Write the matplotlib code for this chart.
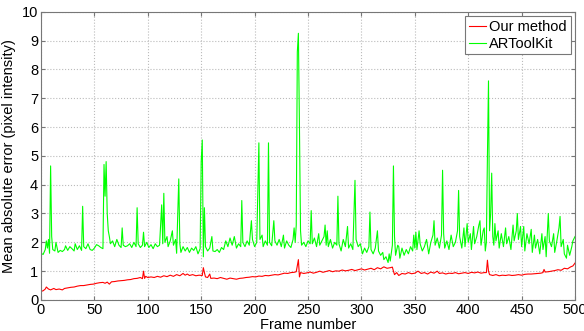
import matplotlib
matplotlib.use('Agg')
import matplotlib.pyplot as plt

# ARToolKit error (frame, value)
frames_artk = [0, 2, 4, 5, 6, 7, 8, 9, 10, 11, 13, 14, 16, 18, 20, 22, 23, 25, 27, 29,
               31, 32, 34, 36, 38, 39, 40, 42, 44, 46, 48, 50, 52, 54, 56, 58, 59, 60, 61, 62,
               63, 64, 65, 67, 69, 71, 73, 75, 76, 77, 79, 81, 83, 85, 87, 89, 90, 91, 93, 95,
               96, 97, 99, 101, 103, 105, 107, 109, 111, 113, 114, 115, 116, 118, 119, 121, 123, 124, 126, 127,
               129, 130, 131, 133, 135, 137, 139, 141, 143, 145, 147, 149, 150, 151, 152, 153, 154, 156, 158, 160,
               161, 163, 165, 167, 169, 171, 173, 175, 177, 179, 181, 183, 185, 187, 188, 189, 191, 193, 195, 197,
               198, 200, 202, 204, 205, 207, 208, 210, 212, 213, 214, 216, 218, 219, 221, 223, 225, 227, 228, 230,
               232, 234, 236, 237, 238, 239, 240, 241, 242, 243, 244, 246, 248, 250, 252, 253, 254, 256, 258, 260,
               261, 263, 265, 266, 267, 268, 269, 271, 273, 275, 277, 278, 279, 281, 283, 285, 287, 288, 290, 292,
               294, 295, 297, 299, 301, 303, 305, 307, 308, 309, 311, 313, 315, 316, 318, 320, 321, 323, 325, 326,
               327, 329, 330, 331, 332, 334, 335, 336, 338, 340, 342, 344, 346, 348, 349, 350, 351, 352, 354, 355,
               357, 359, 361, 363, 365, 367, 368, 369, 371, 373, 375, 376, 377, 378, 380, 382, 384, 386, 388, 390,
               391, 392, 394, 396, 397, 399, 400, 402, 403, 405, 406, 408, 410, 411, 412, 414, 415, 416, 417, 418,
               419, 420, 421, 422, 423, 424, 425, 426, 428, 429, 431, 433, 435, 436, 438, 440, 442, 443, 445, 446,
               447, 449, 450, 452, 453, 455, 457, 459, 460, 462, 463, 465, 467, 469, 470, 472, 473, 475, 476, 478,
               480, 481, 483, 485, 486, 487, 489, 490, 492, 493, 495, 497, 498, 500]
err_artk = [1.62, 1.58, 1.75, 2.05, 1.80, 2.10, 1.62, 4.65, 2.20, 1.75, 1.70, 2.00, 1.65, 1.72, 1.68, 1.75, 1.88, 1.72, 1.85, 1.78,
            1.70, 1.95, 1.75, 1.88, 1.72, 3.25, 1.85, 1.78, 1.95, 1.75, 1.72, 1.80, 1.92, 1.88, 1.82, 1.78, 4.70, 3.60, 4.80, 3.00,
            2.40, 2.20, 1.95, 2.05, 1.85, 2.10, 1.90, 1.82, 2.50, 1.90, 1.85, 1.88, 1.95, 1.82, 2.00, 1.85, 3.20, 1.95, 1.82, 1.90,
            2.35, 1.85, 2.00, 1.82, 1.92, 1.78, 1.95, 1.85, 1.90, 3.30, 1.95, 3.70, 2.00, 2.20, 1.85, 2.05, 2.40, 1.90, 2.10, 1.62,
            4.20, 1.95, 1.65, 1.85, 1.70, 1.82, 1.65, 1.80, 1.72, 1.85, 1.60, 1.78, 4.80, 5.55, 1.50, 3.20, 1.85, 1.70, 1.80, 2.20,
            1.70, 1.68, 1.75, 1.65, 1.82, 1.75, 2.05, 1.85, 2.15, 1.90, 2.20, 1.80, 1.95, 1.85, 3.45, 2.00, 1.85, 2.05, 1.90, 2.75,
            2.10, 1.85, 2.00, 5.45, 2.10, 2.25, 1.85, 2.05, 1.90, 5.45, 2.00, 1.88, 2.75, 2.05, 1.90, 2.10, 1.85, 2.25, 1.80, 2.05,
            1.90, 1.82, 2.10, 2.50, 2.00, 2.60, 8.60, 9.25, 6.00, 2.40, 1.90, 2.00, 1.85, 2.05, 1.95, 3.10, 1.95, 2.15, 1.85, 2.30,
            1.90, 2.05, 2.20, 2.60, 1.90, 2.40, 1.85, 2.10, 1.80, 2.00, 1.90, 3.60, 1.95, 1.70, 2.10, 1.85, 2.55, 1.80, 1.95, 1.75,
            4.15, 2.10, 1.85, 1.95, 1.60, 1.80, 1.65, 1.85, 3.05, 1.75, 1.60, 1.80, 2.40, 1.70, 1.55, 1.65, 1.40, 1.50, 1.30, 1.60,
            1.35, 1.90, 4.65, 2.20, 1.55, 1.90, 1.85, 1.45, 1.80, 1.55, 1.75, 1.60, 1.85, 1.70, 2.25, 1.80, 2.35, 1.75, 2.40, 1.95,
            1.70, 1.85, 2.10, 1.60, 2.00, 2.25, 2.75, 1.90, 2.15, 1.80, 2.25, 4.50, 2.30, 1.80, 2.05, 1.75, 2.25, 1.85, 2.00, 2.40,
            3.80, 2.20, 1.80, 2.50, 1.85, 2.65, 2.00, 2.30, 1.75, 2.55, 1.95, 2.20, 2.60, 2.75, 1.90, 2.40, 2.50, 1.70, 2.00, 5.00,
            7.60, 2.40, 3.00, 4.40, 2.20, 1.90, 2.65, 2.05, 2.40, 1.80, 2.30, 1.85, 2.50, 1.95, 2.20, 1.75, 2.60, 2.05, 2.40, 3.00,
            2.10, 2.55, 1.85, 2.55, 1.70, 2.30, 1.95, 2.45, 1.65, 2.25, 1.80, 2.10, 1.60, 2.30, 1.75, 2.20, 1.50, 3.00, 2.05, 1.85,
            2.30, 1.65, 2.05, 2.50, 2.90, 1.85, 2.10, 1.60, 1.45, 1.90, 1.55, 1.85, 2.05, 2.20]

# Our method error (frame, value)
frames_ours = [0, 2, 4, 5, 7, 9, 12, 14, 17, 20, 22, 25, 28, 31, 34, 37, 40, 43, 46, 49,
               52, 55, 58, 60, 62, 64, 66, 69, 72, 75, 78, 81, 84, 87, 90, 93, 95, 96, 97, 98,
               100, 103, 106, 109, 112, 115, 118, 121, 124, 127, 130, 133, 135, 137, 139, 142, 145, 148, 151, 152,
               153, 154, 156, 158, 159, 162, 165, 168, 171, 174, 177, 180, 183, 186, 189, 192, 195, 198, 201, 204,
               207, 210, 213, 216, 219, 222, 225, 228, 231, 234, 237, 239, 240, 241, 242, 243, 246, 249, 252, 255,
               258, 261, 264, 267, 270, 273, 276, 279, 282, 285, 288, 291, 294, 297, 300, 303, 306, 309, 312, 315,
               318, 321, 324, 327, 329, 330, 331, 333, 335, 338, 341, 344, 347, 350, 353, 356, 359, 362, 365, 368,
               371, 373, 376, 379, 382, 385, 388, 391, 394, 397, 400, 403, 406, 409, 412, 415, 417, 418, 419, 420,
               423, 426, 429, 432, 435, 438, 441, 444, 447, 450, 453, 456, 459, 462, 465, 468, 470, 471, 472, 475,
               478, 481, 484, 487, 490, 493, 496, 498, 500]
err_ours = [0.30, 0.32, 0.38, 0.45, 0.38, 0.35, 0.40, 0.36, 0.38, 0.35, 0.40, 0.42, 0.44, 0.45, 0.48, 0.50, 0.50, 0.52, 0.54, 0.55,
            0.58, 0.60, 0.61, 0.58, 0.62, 0.55, 0.63, 0.64, 0.66, 0.67, 0.68, 0.70, 0.71, 0.74, 0.75, 0.78, 0.74, 1.00, 0.75, 0.82,
            0.78, 0.80, 0.78, 0.82, 0.79, 0.84, 0.81, 0.86, 0.82, 0.88, 0.84, 0.92, 0.86, 0.90, 0.85, 0.88, 0.84, 0.86, 0.85, 1.12,
            0.95, 0.80, 0.78, 0.90, 0.75, 0.76, 0.74, 0.78, 0.75, 0.72, 0.76, 0.74, 0.72, 0.75, 0.76, 0.78, 0.79, 0.81, 0.80, 0.83,
            0.82, 0.85, 0.84, 0.86, 0.88, 0.87, 0.90, 0.93, 0.92, 0.95, 0.96, 0.98, 1.20, 1.40, 0.80, 0.95, 0.92, 0.94, 0.97, 0.93,
            0.96, 1.00, 0.96, 0.99, 1.02, 0.98, 1.01, 1.00, 1.04, 1.01, 1.03, 1.06, 1.02, 1.05, 1.08, 1.04, 1.07, 1.10, 1.05, 1.12,
            1.08, 1.15, 1.10, 1.12, 1.14, 1.00, 0.88, 0.95, 0.85, 0.92, 0.90, 0.95, 0.91, 0.93, 1.00, 0.92, 0.95, 0.90, 0.97, 0.93,
            1.00, 0.92, 0.94, 0.90, 0.93, 0.92, 0.95, 0.91, 0.93, 0.95, 0.92, 0.96, 0.94, 0.97, 0.93, 0.95, 0.95, 1.38, 1.00, 0.88,
            0.85, 0.88, 0.84, 0.86, 0.85, 0.87, 0.85, 0.86, 0.88, 0.86, 0.89, 0.90, 0.90, 0.91, 0.92, 0.93, 0.95, 1.06, 0.97, 0.98,
            1.00, 1.02, 1.05, 1.03, 1.10, 1.08, 1.15, 1.18, 1.28]

plt.rcParams['font.family'] = ['Liberation Sans', 'DejaVu Sans']
plt.rcParams['font.size'] = 10.5

fig = plt.figure(figsize=(5.84, 3.31), dpi=100)
ax = fig.add_axes([0.0702, 0.0937, 0.9144, 0.871])

ax.plot(frames_ours, err_ours, color='#ff0000', lw=0.8, label='Our method')
ax.plot(frames_artk, err_artk, color='#00ff00', lw=0.8, label='ARToolKit')

ax.set_xlim(0, 500)
ax.set_ylim(0, 10)
ax.set_xticks(range(0, 501, 50))
ax.set_yticks(range(0, 11))
ax.grid(True, linestyle=':', color='#bbbbbb', lw=0.8)
ax.tick_params(direction='in', top=True, right=True, length=3, color='#777777', pad=2)
for s in ax.spines.values():
    s.set_color('#777777')
    s.set_linewidth(0.8)

ax.set_xlabel('Frame number', labelpad=1)
ax.set_ylabel('Mean absolute error (pixel intensity)', labelpad=4)

leg = ax.legend(loc='upper right', fancybox=False, framealpha=1, edgecolor='#777777',
                borderaxespad=0.3, handlelength=1.2, handletextpad=0.2, borderpad=0.25, labelspacing=0.2)
leg.get_frame().set_linewidth(0.8)

fig.savefig('out.png', dpi=100)
